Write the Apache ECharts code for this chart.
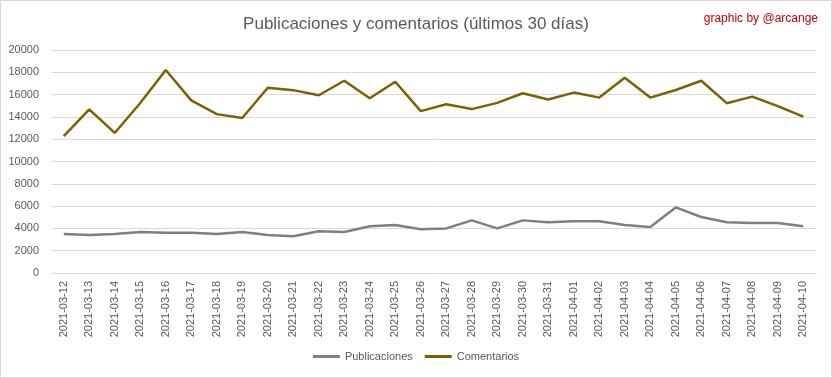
<!DOCTYPE html>
<html><head><meta charset="utf-8">
<script src="https://cdn.jsdelivr.net/npm/echarts@6/dist/echarts.min.js"></script>
<style>html,body{margin:0;padding:0;background:#fff}#c{width:832px;height:378px;box-sizing:border-box;border:1px solid #d9d9d9}</style>
</head><body><div id="c"></div>
<script>
const categories = ["2021-03-12","2021-03-13","2021-03-14","2021-03-15","2021-03-16","2021-03-17","2021-03-18","2021-03-19","2021-03-20","2021-03-21","2021-03-22","2021-03-23","2021-03-24","2021-03-25","2021-03-26","2021-03-27","2021-03-28","2021-03-29","2021-03-30","2021-03-31","2021-04-01","2021-04-02","2021-04-03","2021-04-04","2021-04-05","2021-04-06","2021-04-07","2021-04-08","2021-04-09","2021-04-10"];
const publicaciones = [3500,3400,3500,3670,3600,3600,3500,3670,3400,3300,3750,3680,4200,4300,3920,4000,4720,4000,4720,4550,4650,4650,4300,4120,5880,5020,4550,4480,4480,4200];
const comentarios = [12280,14680,12560,15250,18200,15480,14250,13900,16620,16400,15940,17240,15670,17150,14520,15140,14700,15260,16120,15560,16180,15730,17510,15730,16410,17240,15230,15820,14960,14020];
const chart = echarts.init(document.getElementById('c'));
const font = 'Liberation Sans';
chart.setOption({
  animation:false,
  title:[{text:'Publicaciones y comentarios (últimos 30 días)',left:'center',top:10,textStyle:{fontFamily:font,fontSize:17,fontWeight:'normal',color:'#595959'}},
         {text:'graphic by @arcange',right:8,top:7,textStyle:{fontFamily:font,fontSize:12,fontWeight:'normal',color:'#c00000'}}],
  grid:{left:50,right:15,top:49,bottom:104},
  legend:{bottom:10,left:'center',itemWidth:27,itemHeight:3,itemGap:12,icon:'rect',textStyle:{fontFamily:font,fontSize:11,color:'#595959'},data:['Publicaciones','Comentarios']},
  xAxis:{type:'category',data:categories,boundaryGap:true,axisLine:{lineStyle:{color:'#d9d9d9'}},axisTick:{show:false},
    axisLabel:{rotate:90,interval:0,fontFamily:font,fontSize:11,color:'#595959',margin:8}},
  yAxis:{type:'value',min:0,max:20000,interval:2000,axisLine:{show:false},axisTick:{show:false},
    splitLine:{lineStyle:{color:'#d9d9d9'}},axisLabel:{fontFamily:font,fontSize:11,color:'#595959',margin:12,formatter:function(v){return String(v);}}},
  series:[
    {name:'Publicaciones',type:'line',data:publicaciones,symbol:'none',lineStyle:{width:2.5,color:'#7f7f7f'},itemStyle:{color:'#7f7f7f'}},
    {name:'Comentarios',type:'line',data:comentarios,symbol:'none',lineStyle:{width:2.5,color:'#7f6000'},itemStyle:{color:'#7f6000'}}
  ]
});
</script></body></html>
